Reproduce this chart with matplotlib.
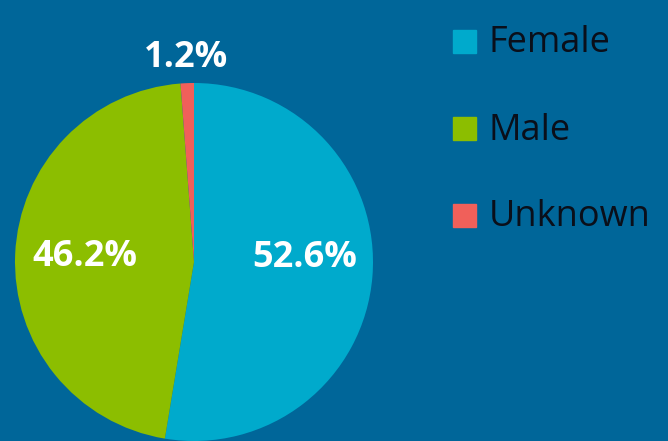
import numpy as np
import matplotlib.pyplot as plt
from matplotlib.patches import Rectangle

# ---- data ----
labels = ['Female', 'Male', 'Unknown']
shares = [52.6, 46.2, 1.2]
colors = ['#00aacc', '#8cbe00', '#f0605a']

bg = '#006699'
plt.rcParams['font.family'] = ['Open Sans', 'DejaVu Sans']

fig = plt.figure(figsize=(6.68, 4.41), dpi=100, facecolor=bg)
ax = fig.add_axes([0, 0, 1, 1])
ax.set_facecolor(bg)

cx, cy, r = 194, 179, 179
wedges, _ = ax.pie(shares, colors=colors, startangle=90, counterclock=False,
                   center=(cx, cy), radius=r, frame=True,
                   wedgeprops=dict(linewidth=0))
ax.set_xlim(0, 668)
ax.set_ylim(0, 441)
ax.set_aspect('equal')
ax.axis('off')

# percent labels (distance from centre, small vertical nudge)
label_dist = [0.62, 0.61, 1.155]
label_nudge = [13, 0, -3]
for w, s, d, n in zip(wedges, shares, label_dist, label_nudge):
    mid = np.radians((w.theta1 + w.theta2) / 2)
    ax.text(cx + d * r * np.cos(mid), cy + d * r * np.sin(mid) + n, f'{s}%',
            ha='center', va='center', color='white', fontsize=26,
            fontweight='bold')

# legend
for i, (lab, col) in enumerate(zip(labels, colors)):
    y = 441 - 41.5 - i * 87
    ax.add_patch(Rectangle((453, y - 11.5), 23, 23, color=col))
    ax.text(489, y - 2, lab, ha='left', va='center', color='#0a0f1a', fontsize=26)

fig.savefig('out.png', dpi=100, facecolor=bg)
